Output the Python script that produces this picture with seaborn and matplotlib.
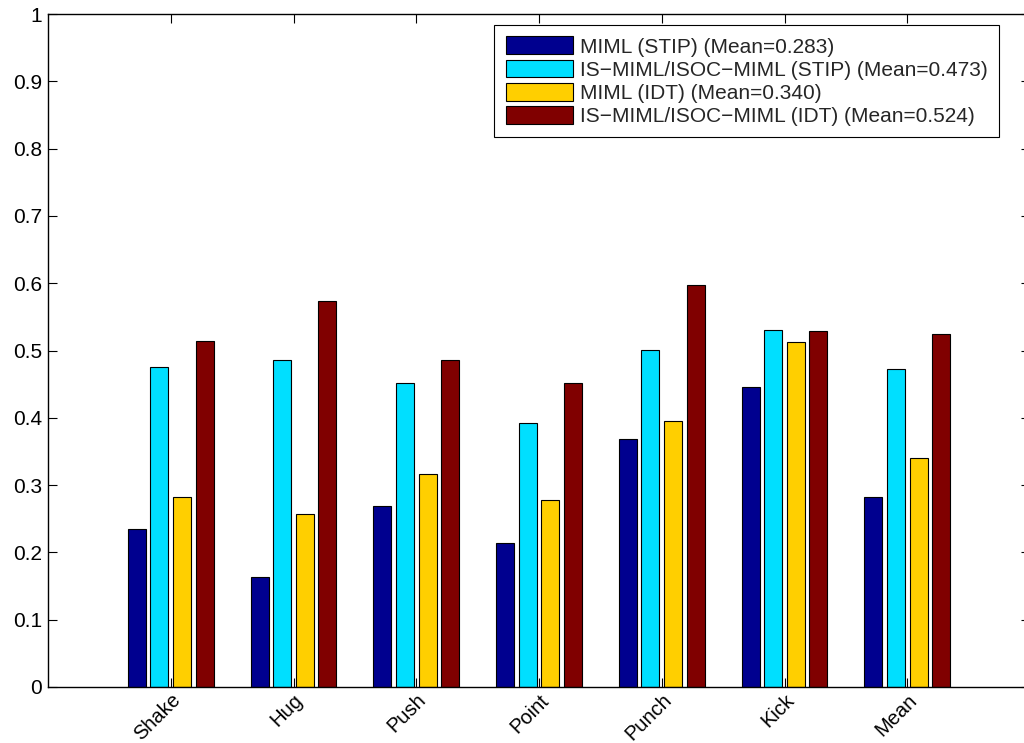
import matplotlib
matplotlib.use("Agg")
import matplotlib.pyplot as plt
import seaborn as sns
import pandas as pd

categories = ["Shake", "Hug", "Push", "Point", "Punch", "Kick", "Mean"]
series_names = [
    "MIML (STIP) (Mean=0.283)",
    "IS\u2212MIML/ISOC\u2212MIML (STIP) (Mean=0.473)",
    "MIML (IDT) (Mean=0.340)",
    "IS\u2212MIML/ISOC\u2212MIML (IDT) (Mean=0.524)",
]
miml_stip = [0.235, 0.164, 0.269, 0.214, 0.369, 0.446, 0.283]
is_miml_stip = [0.476, 0.486, 0.452, 0.392, 0.501, 0.531, 0.473]
miml_idt = [0.283, 0.257, 0.317, 0.278, 0.395, 0.513, 0.340]
is_miml_idt = [0.514, 0.573, 0.486, 0.452, 0.598, 0.529, 0.525]
colors = ["#00008F", "#00DFFF", "#FFCF00", "#800000"]
y_ticks = [0, 0.1, 0.2, 0.3, 0.4, 0.5, 0.6, 0.7, 0.8, 0.9, 1.0]
y_tick_labels = ["0", "0.1", "0.2", "0.3", "0.4", "0.5", "0.6", "0.7", "0.8", "0.9", "1"]

rows = []
for name, vals in zip(series_names, [miml_stip, is_miml_stip, miml_idt, is_miml_idt]):
    for c, v in zip(categories, vals):
        rows.append({"category": c, "value": v, "method": name})
df = pd.DataFrame(rows)

sns.set_style("ticks")
plt.rcParams["font.family"] = ["Liberation Sans", "DejaVu Sans"]

fig = plt.figure(figsize=(10.24, 7.43), dpi=100)
ax = fig.add_axes([48 / 1024, 56 / 743, (1030 - 48) / 1024, 673 / 743])

sns.barplot(data=df, x="category", y="value", hue="method", order=categories,
            hue_order=series_names, palette=colors, width=0.734, gap=0.2,
            edgecolor="black", linewidth=0.8, saturation=1, ax=ax, legend=True)

ax.set_xlim(-1, 7)
ax.set_ylim(0, 1)
ax.set_yticks(y_ticks)
ax.set_yticklabels(y_tick_labels, fontsize=15)
ax.set_xticks(range(len(categories)))
ax.set_xticklabels(categories, fontsize=14.5, rotation=45, ha="right", va="top",
                   rotation_mode="anchor")
ax.set_xlabel("")
ax.set_ylabel("")
for s in ax.spines.values():
    s.set_visible(True)
    s.set_color("black")
    s.set_linewidth(1.0)
ax.tick_params(axis="both", direction="in", length=6.5, width=0.8, color="black",
               top=True, right=True, labelcolor="black")
ax.tick_params(axis="y", pad=4.5)
ax.tick_params(axis="x", pad=2.5)

handles, labels = ax.get_legend_handles_labels()
leg = ax.legend(handles, labels, loc="upper right",
                bbox_to_anchor=(999 / 1024, 1 - 25 / 743),
                bbox_transform=fig.transFigure, borderaxespad=0,
                fontsize=15, frameon=True, fancybox=False, shadow=False,
                handlelength=3.2, handleheight=0.95, handletextpad=0.35,
                labelspacing=0.14, borderpad=0.55)
leg.get_frame().set_edgecolor("black")
leg.get_frame().set_linewidth(0.8)
leg.get_frame().set_alpha(1)

fig.savefig("out.png", dpi=100)
